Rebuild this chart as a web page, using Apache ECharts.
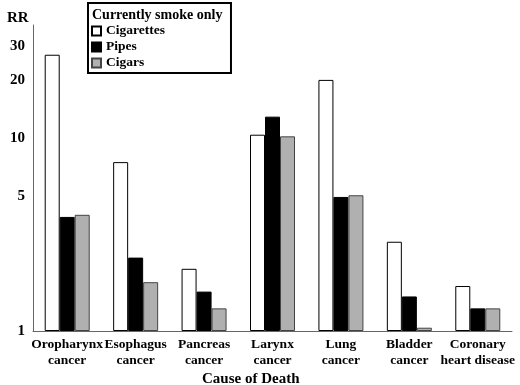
<!DOCTYPE html>
<html>
<head>
<meta charset="utf-8">
<script src="https://cdn.jsdelivr.net/npm/echarts@6/dist/echarts.min.js"></script>
<style>
  html, body { margin: 0; padding: 0; background: #fff; }
  #chart { width: 520px; height: 385px; }
</style>
</head>
<body>
<div id="chart"></div>
<script>
// Relative risk, current smokers of one product only
const causes = [
  "Oropharynx\ncancer",
  "Esophagus\ncancer",
  "Pancreas\ncancer",
  "Larynx\ncancer",
  "Lung\ncancer",
  "Bladder\ncancer",
  "Coronary\nheart disease"
];
const cigarettes = [27.0, 7.5, 2.1, 10.4, 20.0, 2.9, 1.71];
const pipes = [3.9, 2.4, 1.6, 12.9, 4.95, 1.51, 1.31];
const cigars = [4.0, 1.79, 1.31, 10.2, 5.05, 1.04, 1.31];
const rrTicks = [1, 5, 10, 20, 30];

const serif = "'Liberation Serif', 'DejaVu Serif', serif";

const chart = echarts.init(document.getElementById("chart"));

const barSeries = (name, data, color, border) => ({
  name: name,
  type: "bar",
  data: data,
  barWidth: 15,
  barGap: "0%",
  itemStyle: { color: color, borderColor: border, borderWidth: 1 }
});

chart.setOption({
  animation: false,
  backgroundColor: "#fff",
  textStyle: { fontFamily: serif, color: "#000" },
  title: [
    {
      text: "RR",
      left: 2,
      top: 6,
      textStyle: { fontFamily: serif, fontSize: 15, fontWeight: "bold", color: "#000" }
    },
    {
      text: "Currently smoke only",
      left: 90,
      top: 6,
      padding: 2,
      textStyle: { fontFamily: serif, fontSize: 14, fontWeight: "bold", color: "#000" }
    },
    {
      text: "Cause of Death",
      left: 200,
      top: 370,
      padding: 2,
      textStyle: { fontFamily: serif, fontSize: 15, fontWeight: "bold", color: "#000" }
    }
  ],
  legend: {
    orient: "vertical",
    left: 88,
    top: 3,
    padding: [21, 66, 3, 3],
    itemWidth: 9,
    itemHeight: 9,
    itemGap: 2,
    borderColor: "#000",
    borderWidth: 2,
    icon: "rect",
    textStyle: { fontFamily: serif, fontSize: 13.5, fontWeight: "bold", color: "#000" },
    data: ["Cigarettes", "Pipes", "Cigars"]
  },
  grid: { left: 33, right: 8, top: 25, bottom: 54 },
  xAxis: {
    type: "category",
    data: causes,
    axisLine: { show: true, lineStyle: { color: "#666", width: 1 } },
    axisTick: { show: false },
    axisLabel: {
      interval: 0,
      margin: 6,
      fontFamily: serif,
      fontSize: 13.5,
      fontWeight: "bold",
      color: "#000",
      lineHeight: 16
    }
  },
  yAxis: {
    type: "log",
    logBase: 10,
    min: 1,
    max: 38.5,
    splitLine: { show: false },
    axisLine: { show: true, lineStyle: { color: "#666", width: 1 } },
    axisTick: { show: false },
    axisLabel: {
      customValues: rrTicks,
      margin: 8,
      fontFamily: serif,
      fontSize: 15,
      fontWeight: "bold",
      color: "#000"
    }
  },
  series: [
    barSeries("Cigarettes", cigarettes, "#fff", "#000"),
    barSeries("Pipes", pipes, "#000", "#000"),
    barSeries("Cigars", cigars, "#b0b0b0", "#444")
  ]
});
</script>
</body>
</html>
